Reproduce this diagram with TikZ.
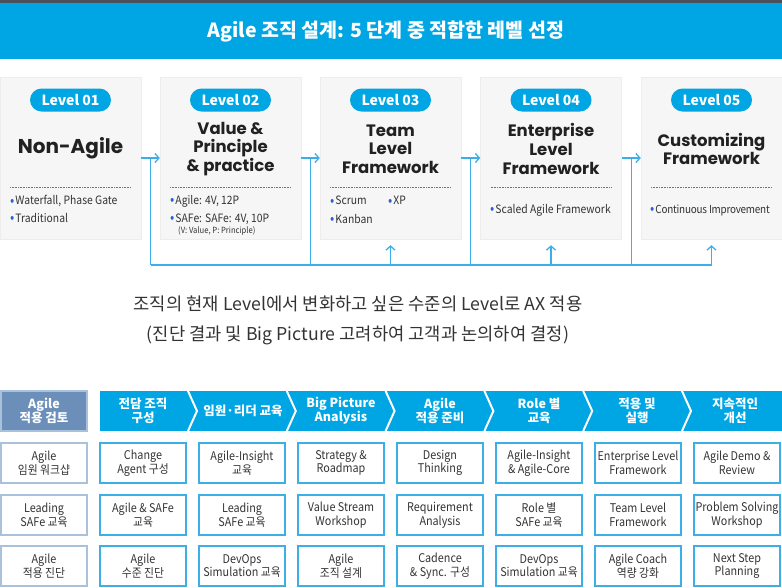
\documentclass[tikz,border=0pt]{standalone}
\usepackage{fontspec}
\setmainfont{Noto Sans CJK KR}
\newfontfamily\headfont{Poppins}
\newfontfamily\narrowfont{Noto Sans CJK KR}[FakeStretch=0.9]
\usetikzlibrary{arrows.meta,calc}

\definecolor{agileblue}{HTML}{00A5E3}
\definecolor{linkblue}{HTML}{3BAFE6}
\definecolor{steelblue}{HTML}{6B8FB9}
\definecolor{steelline}{HTML}{A9C1DB}
\definecolor{boxgray}{HTML}{F6F6F6}
\definecolor{textgray}{HTML}{333333}
\definecolor{dotblue}{HTML}{2B5CD6}
\definecolor{topbar}{HTML}{4A5159}

\newcommand{\fs}[2]{\fontsize{#1}{#2}\selectfont}
\newcommand{\bul}{\raisebox{-0.6pt}{\color{dotblue}\fs{14}{14}•}\hspace{1pt}}

\tikzset{
  level/.style={draw=black!7, fill=boxgray, minimum width=141pt, minimum height=162pt, inner sep=0pt},
  pill/.style={fill=agileblue, rounded corners=11.5pt, minimum width=81pt, minimum height=23pt,
    text=white, font=\fs{14}{16}\bfseries, inner sep=0pt},
  lvtitle/.style={align=center, text=black!87, font=\headfont\fs{16.5}{18.7}\bfseries, inner sep=0pt},
  item/.style={anchor=west, text=textgray, font=\narrowfont\fs{11.5}{13}, inner sep=0pt},
  sep/.style={black!55, densely dotted, line width=0.6pt},
  flow/.style={linkblue, line width=1.3pt, -{Straight Barb[length=4pt,width=9pt]}},
  bus/.style={linkblue, line width=1.3pt},
  stage/.style={text=white, align=center, font=\fs{12.5}{14}\bfseries, inner sep=0pt},
  task/.style={draw=linkblue, line width=1.4pt, minimum width=86pt, minimum height=40pt,
    align=center, text=textgray, font=\narrowfont\fs{12}{13.5}, inner sep=0pt},
}

\begin{document}
\begin{tikzpicture}[x=1pt,y=-1pt]
\useasboundingbox (0,0) rectangle (782,587);

% title banner
\fill[topbar] (0,0) rectangle (782,3);
\fill[agileblue] (0,3) rectangle (782,59);
\node[text=white, font=\fs{19.5}{22}\bfseries] (title) at (386,32) {Agile 조직 설계: 5 단계 중 적합한 레벨 선정};

% the five levels
\foreach \n/\x in {1/70.5, 2/230.5, 3/390.5, 4/551, 5/711.5} {
  \node[level] (lv\n) at (\x,158) {};
  \node[pill] (pill\n) at (\x,100) {Level 0\n};
  \draw[sep] (\x-60.5,187) -- (\x+60.5,187);
}
\node[lvtitle, font=\headfont\fs{20}{22}\bfseries] (name1) at (70.5,148) {Non-Agile};
\node[lvtitle] (name2) at (230.5,149) {Value \&\\Principle\\\& practice};
\node[lvtitle] (name3) at (390.5,149) {Team\\Level\\Framework};
\node[lvtitle] (name4) at (551,149) {Enterprise\\Level\\Framework};
\node[lvtitle] (name5) at (711.5,149) {Customizing\\Framework};

\node[item] (w1) at (10,201) {\bul Waterfall, Phase Gate};
\node[item] (w2) at (10,218) {\bul Traditional};
\node[item] (v1) at (170,201) {\bul Agile: 4V, 12P};
\node[item] (v2) at (170,219) {\bul SAFe: SAFe: 4V, 10P};
\node[item, font=\narrowfont\fs{8.5}{10}] (v3) at (178,231) {(V: Value, P: Principle)};
\node[item] (t1) at (330,201) {\bul Scrum};
\node[item] (t2) at (388,201) {\bul XP};
\node[item] (t3) at (330,219) {\bul Kanban};
\node[item] (e1) at (490,210) {\bul Scaled Agile Framework};
\node[item, font=\narrowfont\fs{11}{13}\addfontfeature{LetterSpace=-2}] (c1) at (650,210) {\bul Continuous Improvement};

% level to level, and the way back up
\coordinate (bus) at (0,265);
\foreach \a/\b in {1/2, 2/3, 3/4, 4/5} {
  \draw[flow] (lv\a.east) -- (lv\b.west);
  \coordinate (j\a) at ($(lv\a.east)!.5!(lv\b.west)$);
  \draw[bus] (j\a) -- (j\a |- bus);
}
\draw[bus] (j1 |- bus) -- (lv5.south |- bus);
\foreach \b in {3,4,5}
  \draw[flow] (lv\b.south |- bus) -- ([yshift=-6pt]lv\b.south);

\node[align=center, text=textgray, font=\fs{17.7}{30}] (note) at (358,320)
  {조직의 현재 Level에서 변화하고 싶은 수준의 Level로 AX 적용\\(진단 결과 및 Big Picture 고려하여 고객과 논의하여 결정)};

% stages
\node[stage, fill=steelblue, draw=steelline, line width=1.4pt, minimum width=86pt, minimum height=40pt]
  (st0) at (44,411) {Agile\\적용 검토};
\fill[agileblue] (100,391) rectangle (782,431);
\foreach \x in {188,286.8,385.6,484.4,583.2,682}
  \draw[white, line width=2pt] (\x,391) -- ++(9,20) -- ++(-9,20);
\foreach \n/\x/\t in {1/143/{전담 조직\\구성}, 2/243/{임원·리더 교육}, 3/341/{Big Picture\\Analysis},
    4/440/{Agile\\적용 준비}, 5/539/{Role 별\\교육}, 6/637/{적용 및\\실행}, 7/735/{지속적인\\개선}}
  \node[stage] (st\n) at (\x,411) {\t};

% tasks under each stage
\foreach \c/\col/\ta/\tb/\tc in {
    0/steelline/{Agile\\임원 워크샵}/{Leading\\SAFe 교육}/{Agile\\적용 진단},
    1/linkblue/{Change\\Agent 구성}/{Agile \& SAFe\\교육}/{Agile\\수준 진단},
    2/linkblue/{Agile-Insight\\교육}/{Leading\\SAFe 교육}/{DevOps\\Simulation 교육},
    3/linkblue/{Strategy \&\\Roadmap}/{Value Stream\\Workshop}/{Agile\\조직 설계},
    4/linkblue/{Design\\Thinking}/{Requirement\\Analysis}/{Cadence\\\& Sync. 구성},
    5/linkblue/{Agile-Insight\\\& Agile-Core}/{Role 별\\SAFe 교육}/{DevOps\\Simulation 교육},
    6/linkblue/{Enterprise Level\\Framework}/{Team Level\\Framework}/{Agile Coach\\역량 강화},
    7/linkblue/{Agile Demo \&\\Review}/{Problem Solving\\Workshop}/{Next Step\\Planning}} {
  \node[task, draw=\col] (task\c a) at (44+99*\c,463) {\ta};
  \node[task, draw=\col] (task\c b) at (44+99*\c,515) {\tb};
  \node[task, draw=\col] (task\c c) at (44+99*\c,566) {\tc};
}
\end{tikzpicture}
\end{document}
